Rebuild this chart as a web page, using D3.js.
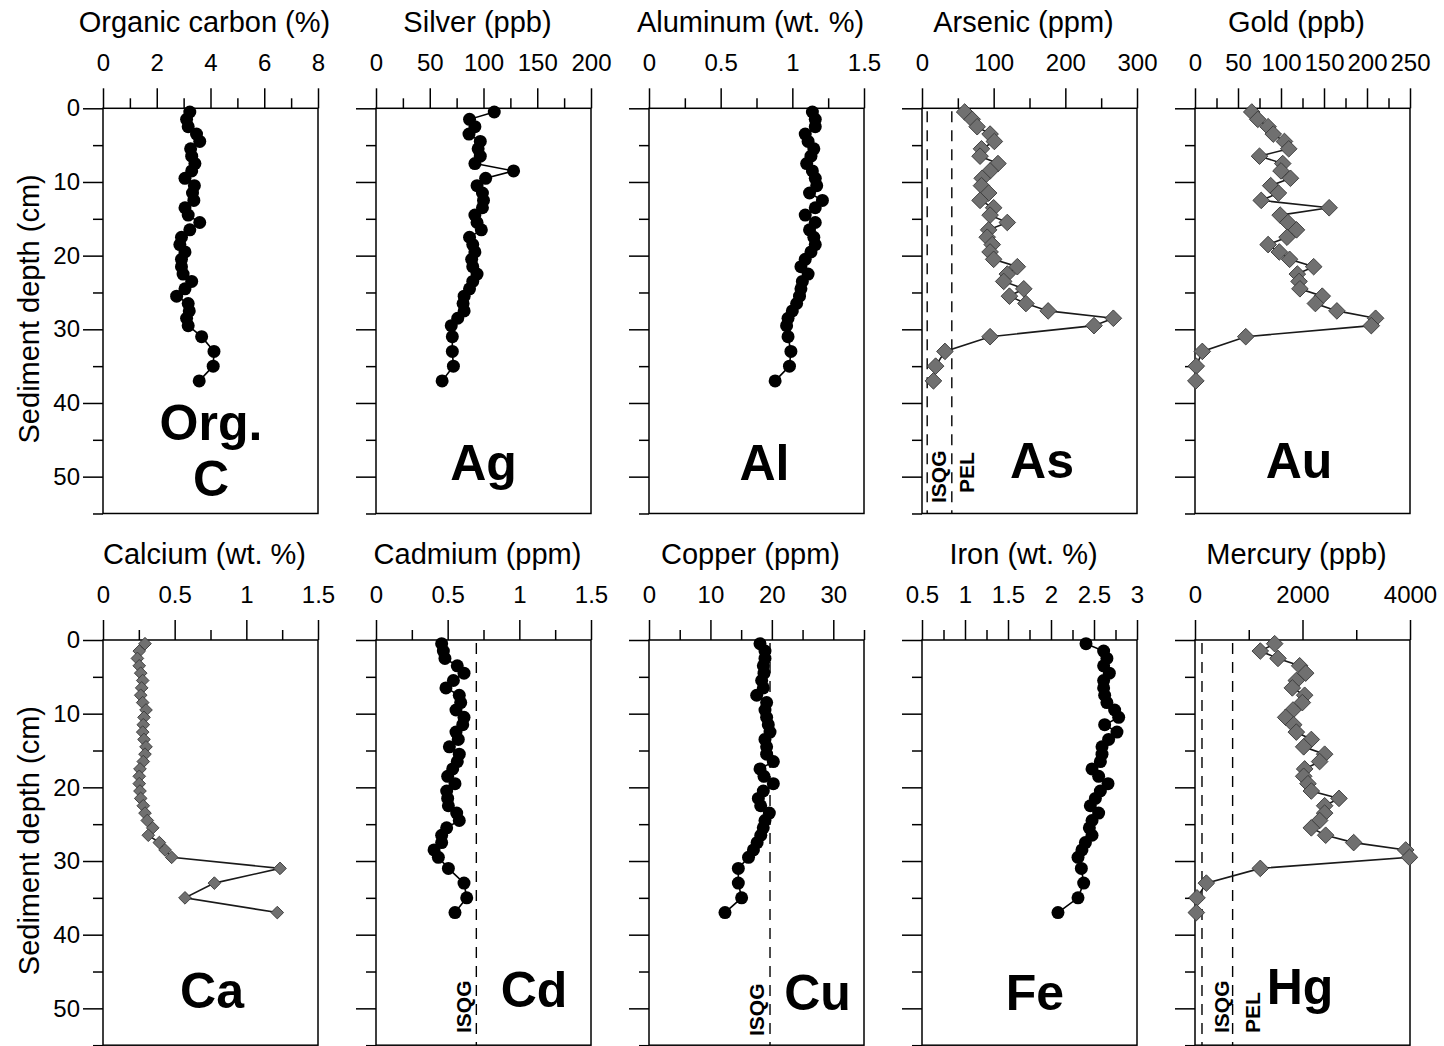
<!DOCTYPE html>
<html>
<head>
<meta charset="utf-8">
<script src="https://cdn.jsdelivr.net/npm/d3@7"></script>
<style>
  html, body { margin: 0; padding: 0; background: #fff; }
  svg { display: block; font-family: "Liberation Sans", Arial, Helvetica, sans-serif; }
</style>
</head>
<body>
<svg id="chart" width="1444" height="1046"></svg>
<script>
// Sample mid-depths of the core (cm)
const depth = [0.5, 1.5, 2.5, 3.5, 4.5, 5.5, 6.5, 7.5, 8.5, 9.5, 10.5, 11.5, 12.5, 13.5, 14.5,
  15.5, 16.5, 17.5, 18.5, 19.5, 20.5, 21.5, 22.5, 23.5, 24.5, 25.5, 26.5, 27.5, 28.5, 29.5,
  31, 33, 35, 37];

// Down-core profiles
const orgCarbon = [3.23, 3.11, 3.17, 3.48, 3.6, 3.26, 3.3, 3.42, 3.3, 3.05, 3.4, 3.33, 3.38, 3.05, 3.17,
  3.6, 3.23, 2.92, 2.86, 3.05, 2.92, 2.92, 2.98, 3.3, 3.05, 2.74, 3.17, 3.21, 3.11, 3.17,
  3.67, 4.13, 4.1, 3.58];
const silver = [110, 87, 92, 86.5, 97, 95, 97, 92, 128, 102, 94, 99, 100, 99, 92,
  94, 98, 87, 90, 92, 89, 90, 94, 90, 87, 82, 81, 82, 76, 70,
  71, 71, 72, 61.5];
const aluminum = [1.14, 1.16, 1.16, 1.09, 1.11, 1.15, 1.13, 1.10, 1.14, 1.16, 1.17, 1.12, 1.21, 1.16, 1.09,
  1.16, 1.12, 1.15, 1.16, 1.13, 1.09, 1.06, 1.11, 1.07, 1.06, 1.05, 1.03, 1.00, 0.97, 0.96,
  0.97, 0.99, 0.98, 0.88];
const arsenic = [59.5, 70, 77, 95, 101, 83, 81, 106, 95, 84, 83, 93, 81, 100, 95,
  119, 93, 91, 98, 95, 100, 133, 119, 114, 142, 122, 145, 176, 267, 240,
  95, 32, 19, 16];
const gold = [66, 73, 85, 91, 104, 109, 75, 102, 100, 111, 88, 97, 77, 156, 99,
  108, 118, 107, 85, 98, 110, 138, 119, 121, 122, 148, 140, 165, 210, 205,
  59, 8.5, 1.5, 1];
const calcium = [0.293, 0.253, 0.24, 0.253, 0.263, 0.277, 0.27, 0.263, 0.277, 0.3, 0.286, 0.281, 0.277, 0.286, 0.3,
  0.293, 0.281, 0.258, 0.253, 0.253, 0.258, 0.263, 0.281, 0.293, 0.309, 0.347, 0.316, 0.393, 0.433, 0.479,
  1.235, 0.777, 0.572, 1.216];
const cadmium = [0.458, 0.47, 0.481, 0.567, 0.614, 0.54, 0.488, 0.581, 0.591, 0.558, 0.614, 0.605, 0.558, 0.574, 0.512,
  0.581, 0.567, 0.535, 0.5, 0.551, 0.493, 0.5, 0.505, 0.563, 0.581, 0.493, 0.458, 0.458, 0.405, 0.435,
  0.505, 0.614, 0.633, 0.551];
const copper = [18.07, 18.88, 18.88, 18.61, 18.72, 18.34, 18.61, 17.53, 19.15, 18.88, 19.15, 19.42, 19.7, 18.88, 19.15,
  19.15, 20.24, 18.07, 18.72, 20.24, 18.61, 17.8, 18.18, 19.59, 18.88, 18.6, 18.2, 17.6, 17.0, 16.2,
  14.54, 14.54, 15.08, 12.37];
const iron = [2.407, 2.612, 2.65, 2.612, 2.678, 2.612, 2.612, 2.624, 2.65, 2.74, 2.787, 2.624, 2.767, 2.67, 2.593,
  2.593, 2.574, 2.477, 2.554, 2.663, 2.574, 2.516, 2.457, 2.554, 2.477, 2.446, 2.477, 2.4, 2.36, 2.314,
  2.353, 2.38, 2.314, 2.081];
const mercury = [1482, 1215, 1544, 1947, 2059, 1885, 1811, 2040, 1997, 1823, 1687, 1836, 1885, 2164, 2022,
  2412, 2319, 2040, 2022, 2102, 2164, 2679, 2412, 2412, 2319, 2164, 2431, 2952, 3920, 3990,
  1215, 211, 37, 25];

// Sediment quality guidelines
const asGuidelines = [7.24, 41.6];   // ISQG, PEL (ppm)
const cdGuidelines = [0.7];          // ISQG (ppm)
const cuGuidelines = [19.7];         // ISQG (ppm)
const hgGuidelines = [130, 700];     // ISQG, PEL (ppb)

// Axis tick labels
const depthTicks = [0, 10, 20, 30, 40, 50];
const orgCTicks = [0, 2, 4, 6, 8];
const agTicks = [0, 50, 100, 150, 200];
const alTicks = [0, 0.5, 1, 1.5];
const asTicks = [0, 100, 200, 300];
const auTicks = [0, 50, 100, 150, 200, 250];
const caTicks = [0, 0.5, 1, 1.5];
const cdTicks = [0, 0.5, 1, 1.5];
const cuTicks = [0, 10, 20, 30];
const feTicks = [0.5, 1, 1.5, 2, 2.5, 3];
const hgTicks = [0, 2000, 4000];

// ---- layout ----
const colX0 = 103, colStep = 273, panelW = 215;
const rowTop = [108.3, 640];
const depthMax = 55, pxPerCm = 7.367;
const plotH = depthMax * pxPerCm;

const panels = [
  { row: 0, col: 0, title: "Organic carbon (%)", values: orgCarbon, domain: [0, 8], ticks: orgCTicks,
    mark: "circle", tag: ["Org.", "C"], tagDx: 0.5, tagY: [440, 496] },
  { row: 0, col: 1, title: "Silver (ppb)", values: silver, domain: [0, 200], ticks: agTicks,
    mark: "circle", tag: ["Ag"], tagDx: 0, tagY: [480] },
  { row: 0, col: 2, title: "Aluminum (wt. %)", values: aluminum, domain: [0, 1.5], ticks: alTicks,
    mark: "circle", tag: ["Al"], tagDx: 8, tagY: [480] },
  { row: 0, col: 3, title: "Arsenic (ppm)", values: arsenic, domain: [0, 300], ticks: asTicks,
    mark: "diamond", size: 138, tag: ["As"], tagDx: 12.5, tagY: [478],
    guides: asGuidelines, guideText: [{ t: "ISQG", dx: 19, y: 503 }, { t: "PEL", dx: 22, y: 493 }] },
  { row: 0, col: 4, title: "Gold (ppb)", values: gold, domain: [0, 250], ticks: auTicks,
    mark: "diamond", size: 138, tag: ["Au"], tagDx: -3.5, tagY: [478] },
  { row: 1, col: 0, title: "Calcium (wt. %)", values: calcium, domain: [0, 1.5], ticks: caTicks,
    mark: "diamond", size: 80, tag: ["Ca"], tagDx: 1.5, tagY: [1008] },
  { row: 1, col: 1, title: "Cadmium (ppm)", values: cadmium, domain: [0, 1.5], ticks: cdTicks,
    mark: "circle", tag: ["Cd"], tagDx: 50.5, tagY: [1007],
    guides: cdGuidelines, guideText: [{ t: "ISQG", dx: -5, y: 1033 }] },
  { row: 1, col: 2, title: "Copper (ppm)", values: copper, domain: [0, 35], ticks: cuTicks,
    mark: "circle", tag: ["Cu"], tagDx: 61, tagY: [1010],
    guides: cuGuidelines, guideText: [{ t: "ISQG", dx: -6, y: 1036 }] },
  { row: 1, col: 3, title: "Iron (wt. %)", values: iron, domain: [0.5, 3], ticks: feTicks,
    mark: "circle", tag: ["Fe"], tagDx: 5.5, tagY: [1010] },
  { row: 1, col: 4, title: "Mercury (ppb)", values: mercury, domain: [0, 4000], ticks: hgTicks,
    mark: "diamond", size: 138, tag: ["Hg"], tagDx: -2.5, tagY: [1004],
    guides: hgGuidelines, guideText: [{ t: "ISQG", dx: 27, y: 1033 }, { t: "PEL", dx: 27, y: 1033 }] }
];

const svg = d3.select("#chart");
svg.append("rect").attr("width", 1444).attr("height", 1046).attr("fill", "#fff");

const minorDepth = d3.range(5, depthMax + 0.1, 10);

function minorTicks(ticks, domain) {
  const step = ticks[1] - ticks[0];
  const out = [];
  for (let v = ticks[0] + step / 2; v <= domain[1] + 1e-9; v += step) out.push(+v.toFixed(6));
  return out;
}

function styleAxis(g) {
  g.select(".domain").remove();
  g.selectAll(".tick line").attr("stroke", "#000").attr("stroke-width", 1.5);
  g.selectAll(".tick text").attr("fill", "#000").attr("font-size", 24)
    .attr("font-family", '"Liberation Sans", Arial, Helvetica, sans-serif');
}

panels.forEach(p => {
  const left = colX0 + p.col * colStep;
  const top = rowTop[p.row];
  const x = d3.scaleLinear().domain(p.domain).range([left, left + panelW]);
  const y = d3.scaleLinear().domain([0, depthMax]).range([top, top + plotH]);
  const g = svg.append("g");

  // top value axis: labelled major ticks plus short minor ticks
  g.append("g").attr("transform", `translate(0,${top})`)
    .call(d3.axisTop(x).tickValues(p.ticks).tickSize(20).tickSizeOuter(0).tickPadding(17.5).tickFormat(d => String(d)))
    .call(styleAxis);
  g.append("g").attr("transform", `translate(0,${top})`)
    .call(d3.axisTop(x).tickValues(minorTicks(p.ticks, p.domain)).tickSize(10).tickSizeOuter(0).tickFormat(""))
    .call(styleAxis);

  // left depth axis
  g.append("g").attr("transform", `translate(${left},0)`)
    .call(d3.axisLeft(y).tickValues(depthTicks).tickSize(20).tickSizeOuter(0).tickPadding(3)
      .tickFormat(p.col === 0 ? (d => String(d)) : ""))
    .call(styleAxis);
  g.append("g").attr("transform", `translate(${left},0)`)
    .call(d3.axisLeft(y).tickValues(minorDepth).tickSize(10).tickSizeOuter(0).tickFormat(""))
    .call(styleAxis);

  // frame
  g.append("rect").attr("x", left).attr("y", top).attr("width", panelW).attr("height", plotH)
    .attr("fill", "none").attr("stroke", "#000").attr("stroke-width", 1.5);

  // title
  g.append("text").attr("x", left + panelW / 2 - 6).attr("y", top - 76.5)
    .attr("text-anchor", "middle").attr("font-size", 29).attr("fill", "#000").text(p.title);

  if (p.col === 0) {
    const cy = top + plotH / 2 - 2;
    g.append("text").attr("transform", `translate(39,${cy}) rotate(-90)`)
      .attr("text-anchor", "middle").attr("font-size", 29).attr("fill", "#000")
      .text("Sediment depth (cm)");
  }

  // guideline thresholds
  if (p.guides) {
    p.guides.forEach((gv, i) => {
      g.append("line").attr("x1", x(gv)).attr("x2", x(gv))
        .attr("y1", top + 3).attr("y2", top + plotH)
        .attr("stroke", "#000").attr("stroke-width", 1.4).attr("stroke-dasharray", "11,8");
      const gt = p.guideText[i];
      g.append("text").attr("transform", `translate(${x(gv) + gt.dx},${gt.y}) rotate(-90)`)
        .attr("font-size", 21).attr("font-weight", "bold").attr("fill", "#000").text(gt.t);
    });
  }

  // element tag
  p.tag.forEach((t, i) => {
    g.append("text").attr("x", left + panelW / 2 + p.tagDx).attr("y", p.tagY[i])
      .attr("text-anchor", "middle").attr("font-size", 50).attr("font-weight", "bold")
      .attr("fill", "#000").text(t);
  });

  // profile line and markers
  const pts = p.values.map((v, i) => [v, depth[i]]);
  const line = d3.line().x(d => x(d[0])).y(d => y(d[1]));
  g.append("path").datum(pts).attr("d", line).attr("fill", "none")
    .attr("stroke", p.mark === "circle" ? "#000" : "#1a1a1a").attr("stroke-width", 1.6);

  if (p.mark === "circle") {
    g.selectAll("circle.pt").data(pts).join("circle").attr("class", "pt")
      .attr("cx", d => x(d[0])).attr("cy", d => y(d[1])).attr("r", 6.5).attr("fill", "#000");
  } else {
    const sym = d3.symbol(d3.symbolSquare, p.size);
    g.selectAll("path.pt").data(pts).join("path").attr("class", "pt")
      .attr("d", sym)
      .attr("transform", d => `translate(${x(d[0])},${y(d[1])}) rotate(45)`)
      .attr("fill", "#707070").attr("stroke", "#3c3c3c").attr("stroke-width", 0.9);
  }
});
</script>
</body>
</html>
